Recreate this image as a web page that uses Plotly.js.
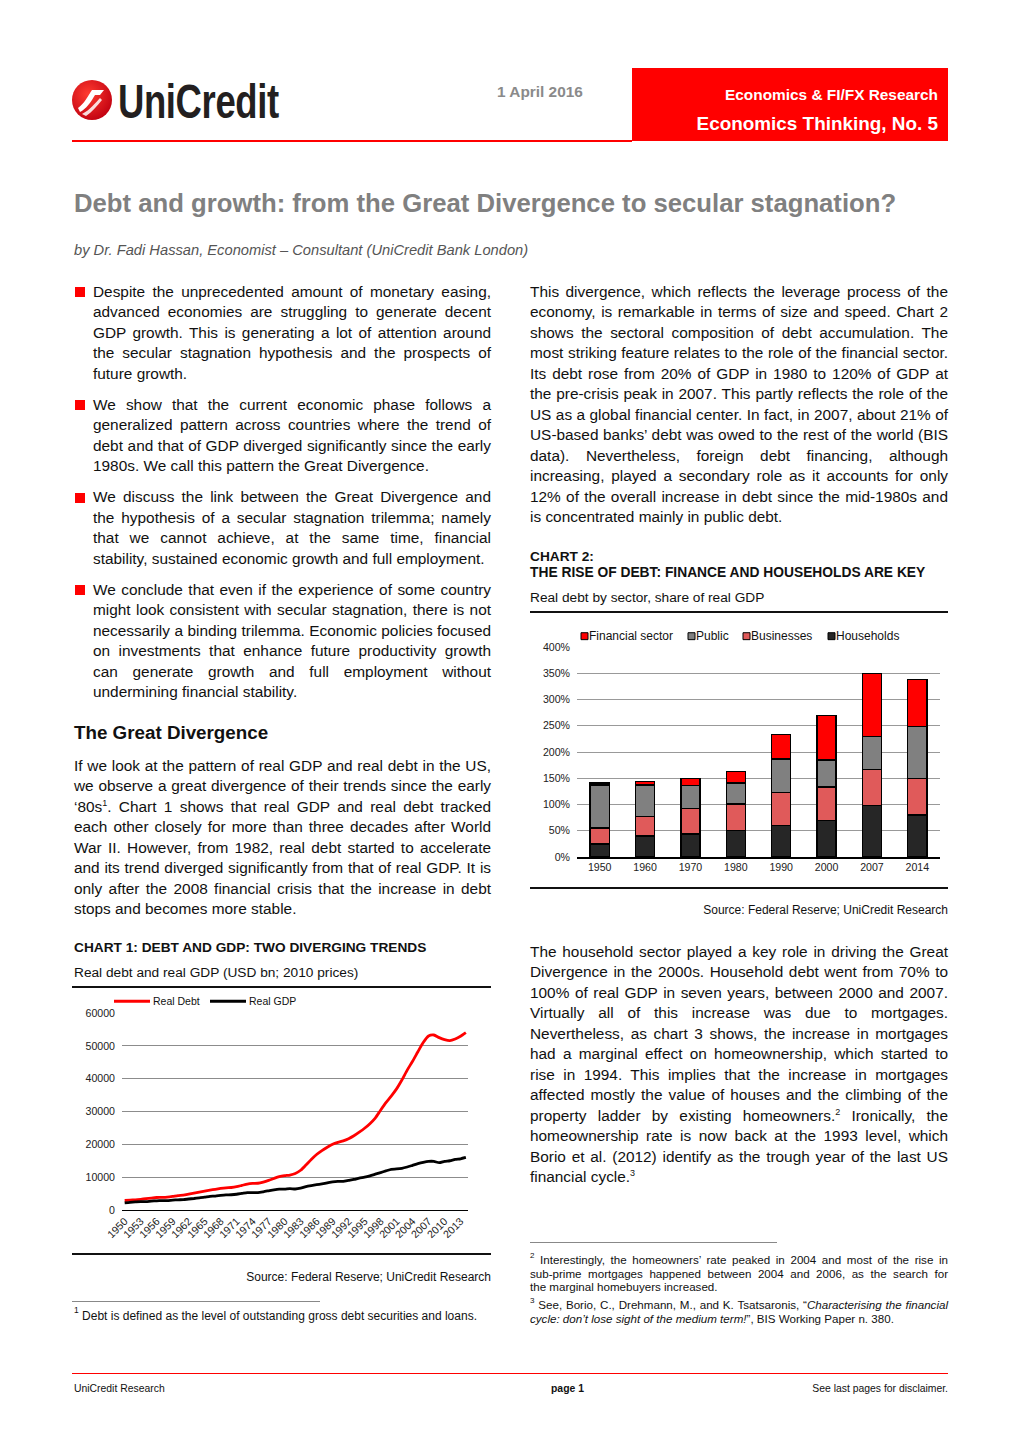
<!DOCTYPE html>
<html><head><meta charset="utf-8">
<script src="https://cdn.plot.ly/plotly-3.0.1.min.js"></script>
<style>
html,body{margin:0;padding:0;background:#fff;}
body{width:1020px;height:1442px;position:relative;overflow:hidden;font-family:"Liberation Sans",Arial,sans-serif;color:#111;}
.abs{position:absolute;white-space:nowrap;}
.ln{position:absolute;font-size:15.4px;line-height:20.5px;height:20.5px;text-align:justify;text-align-last:justify;white-space:nowrap;overflow:visible;}
.ln.last{text-align-last:left;}
sup{font-size:9px;line-height:0;vertical-align:6px;}
.bul{position:absolute;width:10px;height:10px;background:#f00;}
.rule{position:absolute;}
.fn{font-size:11.6px;line-height:13.2px;height:13.2px;}
.fn sup{font-size:8px;vertical-align:6px;}
</style></head>
<body>
<!-- header -->
<svg class="abs" style="left:70px;top:78px" width="44" height="44" viewBox="0 0 44 44">
 <defs><radialGradient id="g" cx="40%" cy="35%" r="70%"><stop offset="0" stop-color="#ff3b30"/><stop offset="1" stop-color="#c00010"/></radialGradient></defs>
 <circle cx="22" cy="22" r="20" fill="url(#g)"/>
 <path d="M8,30 C14,26 18,18 22,12 L34,12 L30,17 L25,17 C21,24 16,31 10,34 Z" fill="#fff"/>
 <path d="M12,36 C20,32 26,24 30,20 L32,22 C27,28 22,34 16,38 Z" fill="#fff" opacity="0.85"/>
</svg>
<div class="abs" style="left:118px;top:74px;font-size:48px;font-weight:bold;color:#231f20;transform:scaleX(0.76);transform-origin:left top;letter-spacing:-0.5px;">UniCredit</div>
<div class="abs" style="left:497px;top:83px;font-size:15.4px;font-weight:bold;color:#8a8a8a;">1 April 2016</div>
<div class="rule" style="left:632px;top:68px;width:316px;height:73px;background:#ff0000;"></div>
<div class="abs" style="right:82px;top:86px;font-size:15.4px;font-weight:bold;color:#fff;">Economics &amp; FI/FX Research</div>
<div class="abs" style="right:82px;top:113px;font-size:18.9px;font-weight:bold;color:#fff;">Economics Thinking, No. 5</div>
<div class="rule" style="left:72px;top:140px;width:560px;height:2px;background:#ff0000;"></div>

<div class="abs" style="left:74px;top:189px;font-size:25.7px;font-weight:bold;color:#808080;">Debt and growth: from the Great Divergence to secular stagnation?</div>
<div class="abs" style="left:74px;top:242px;font-size:14.7px;font-style:italic;color:#555;">by Dr. Fadi Hassan, Economist – Consultant (UniCredit Bank London)</div>

<div class="abs" style="left:74px;top:722px;font-size:18.8px;font-weight:bold;color:#111;">The Great Divergence</div>

<!-- chart 1 header -->
<div class="abs" style="left:74px;top:940px;font-size:13.7px;font-weight:bold;">CHART 1: DEBT AND GDP: TWO DIVERGING TRENDS</div>
<div class="abs" style="left:74px;top:965px;font-size:13.7px;">Real debt and real GDP (USD bn; 2010 prices)</div>
<div class="rule" style="left:72px;top:986px;width:419px;height:2px;background:#111;"></div>
<div class="rule" style="left:72px;top:1253px;width:419px;height:2px;background:#111;"></div>
<div class="abs" style="right:529px;top:1270px;font-size:12px;">Source: Federal Reserve; UniCredit Research</div>
<div class="rule" style="left:72px;top:1301px;width:248px;height:1px;background:#888;"></div>
<div class="abs" style="left:74px;top:1309px;font-size:12px;"><sup style="font-size:8.5px;vertical-align:7px;">1</sup> Debt is defined as the level of outstanding gross debt securities and loans.</div>

<!-- chart 2 header -->
<div class="abs" style="left:530px;top:549px;font-size:13.7px;font-weight:bold;">CHART 2:</div>
<div class="abs" style="left:530px;top:565px;font-size:13.8px;font-weight:bold;">THE RISE OF DEBT: FINANCE AND HOUSEHOLDS ARE KEY</div>
<div class="abs" style="left:530px;top:590px;font-size:13.7px;">Real debt by sector, share of real GDP</div>
<div class="rule" style="left:530px;top:611px;width:418px;height:2px;background:#111;"></div>
<div class="rule" style="left:530px;top:887px;width:418px;height:2px;background:#111;"></div>
<div class="abs" style="right:72px;top:903px;font-size:12px;">Source: Federal Reserve; UniCredit Research</div>

<div class="rule" style="left:530px;top:1242px;width:247px;height:1px;background:#888;"></div>

<!-- footer -->
<div class="rule" style="left:72px;top:1373px;width:876px;height:1px;background:#ff0000;"></div>
<div class="abs" style="left:74px;top:1383px;font-size:10.4px;">UniCredit Research</div>
<div class="abs" style="left:551px;top:1383px;font-size:10.4px;font-weight:bold;">page 1</div>
<div class="abs" style="right:72px;top:1383px;font-size:10.4px;">See last pages for disclaimer.</div>

<div id="c1" style="position:absolute;left:72px;top:990px;width:420px;height:265px;"></div>
<div id="c2" style="position:absolute;left:530px;top:615px;width:420px;height:270px;"></div>

<script>
// ---------- text ----------
function para(x, yc, w, lines, lh, cls){
  lh = lh || 20.5;
  lines.forEach(function(t,i){
    var d=document.createElement('div');
    d.className='ln'+(i===lines.length-1?' last':'')+(cls?' '+cls:'');
    d.style.left=x+'px'; d.style.width=w+'px'; d.style.top=(yc+i*lh-lh/2)+'px';
    d.innerHTML=t; document.body.appendChild(d);
  });
}
function bullet(yc){var b=document.createElement('div');b.className='bul';b.style.left='75px';b.style.top=(yc-5)+'px';document.body.appendChild(b);}
bullet(292);
para(93,292,398,["Despite the unprecedented amount of monetary easing,","advanced economies are struggling to generate decent","GDP growth. This is generating a lot of attention around","the secular stagnation hypothesis and the prospects of","future growth."]);
bullet(405);
para(93,405,398,["We show that the current economic phase follows a","generalized pattern across countries where the trend of","debt and that of GDP diverged significantly since the early","1980s. We call this pattern the Great Divergence."]);
bullet(497.5);
para(93,497.5,398,["We discuss the link between the Great Divergence and","the hypothesis of a secular stagnation trilemma; namely","that we cannot achieve, at the same time, financial","stability, sustained economic growth and full employment."]);
bullet(590);
para(93,590,398,["We conclude that even if the experience of some country","might look consistent with secular stagnation, there is not","necessarily a binding trilemma. Economic policies focused","on investments that enhance future productivity growth","can generate growth and full employment without","undermining financial stability."]);
para(74,766,417,["If we look at the pattern of real GDP and real debt in the US,","we observe a great divergence of their trends since the early","‘80s<sup>1</sup>. Chart 1 shows that real GDP and real debt tracked","each other closely for more than three decades after World","War II. However, from 1982, real debt started to accelerate","and its trend diverged significantly from that of real GDP. It is","only after the 2008 financial crisis that the increase in debt","stops and becomes more stable."]);
para(530,292,418,["This divergence, which reflects the leverage process of the","economy, is remarkable in terms of size and speed. Chart 2","shows the sectoral composition of debt accumulation. The","most striking feature relates to the role of the financial sector.","Its debt rose from 20% of GDP in 1980 to 120% of GDP at","the pre-crisis peak in 2007. This partly reflects the role of the","US as a global financial center. In fact, in 2007, about 21% of","US-based banks’ debt was owed to the rest of the world (BIS","data). Nevertheless, foreign debt financing, although","increasing, played a secondary role as it accounts for only","12% of the overall increase in debt since the mid-1980s and","is concentrated mainly in public debt."]);
para(530,952,418,["The household sector played a key role in driving the Great","Divergence in the 2000s. Household debt went from 70% to","100% of real GDP in seven years, between 2000 and 2007.","Virtually all of this increase was due to mortgages.","Nevertheless, as chart 3 shows, the increase in mortgages","had a marginal effect on homeownership, which started to","rise in 1994. This implies that the increase in mortgages","affected mostly the value of houses and the climbing of the","property ladder by existing homeowners.<sup>2</sup> Ironically, the","homeownership rate is now back at the 1993 level, which","Borio et al. (2012) identify as the trough year of the last US","financial cycle.<sup>3</sup>"]);
para(530,1260,418,["<sup>2</sup> Interestingly, the homeowners’ rate peaked in 2004 and most of the rise in","sub-prime mortgages happened between 2004 and 2006, as the search for","the marginal homebuyers increased."],13.2,'fn');
para(530,1305,418,["<sup>3</sup> See, Borio, C., Drehmann, M., and K. Tsatsaronis, “<i>Characterising the financial</i>","<i>cycle: don’t lose sight of the medium term!</i>”, BIS Working Paper n. 380."],14,'fn');

// ---------- data ----------
var years = [];
for (var y=1950; y<=2014; y++) years.push(y);
var realDebt = [2900,3000,3100,3250,3450,3650,3800,3850,3950,4150,
 4400,4550,4850,5150,5450,5750,6050,6300,6550,6750,
 6850,7100,7500,7900,8100,8150,8500,9000,9600,10150,
 10450,10650,11100,12100,13700,15400,16900,18100,19100,20000,
 20600,21050,21700,22600,23700,24900,26300,28000,30400,32700,
 34700,36900,39600,42600,45300,48200,51000,53000,53300,52500,
 51900,51600,52100,52900,54000];
var realGDP = [2200,2350,2450,2550,2550,2700,2800,2850,2850,3000,
 3100,3150,3350,3500,3700,3900,4150,4250,4450,4600,
 4650,4800,5050,5300,5300,5300,5550,5850,6150,6350,
 6350,6500,6400,6650,7150,7450,7700,7950,8250,8550,
 8700,8700,9000,9300,9700,10000,10400,10900,11400,11900,
 12400,12500,12700,13100,13600,14100,14500,14800,14800,14400,
 14800,15000,15400,15600,16000];
var chart1Series = ["Real Debt","Real GDP"];
var chart1Colors = ["#ff0000","#000000"];
var chart1Ticks = [1950,1953,1956,1959,1962,1965,1968,1971,1974,1977,1980,1983,1986,1989,1992,1995,1998,2001,2004,2007,2010,2013];

var sectorYears = ["1950","1960","1970","1980","1990","2000","2007","2014"];
var households = [25,40,44,50,60,70,98,80];
var businesses = [30,37,48,51,63,63,69,69];
var publicDebt = [82,60,44,40,64,52,63,100];
var financial  = [4,7,14,22,46,85,119,89];
var sectorNames = ["Financial sector","Public","Businesses","Households"];
var sectorColors = ["#ff0000","#808080","#e05a5a","#262626"];

var tickFont = {family:"Liberation Sans, Arial, sans-serif", size:10.6, color:"#222"};

// ---------- chart 1 ----------
var tr1 = [realDebt, realGDP].map(function(v,i){
  return {x:years, y:v, type:"scatter", mode:"lines", name:chart1Series[i],
    line:{color:chart1Colors[i], width:2.8, shape:"spline", smoothing:0.6}, showlegend:false};
});
var l1 = {shapes:[], annotations:[]};
var leg1X = [42, 138], W1 = 346, L1 = 50;
chart1Series.forEach(function(n,i){
  var x0 = (leg1X[i]-L1)/W1, x1 = (leg1X[i]+36-L1)/W1;
  l1.shapes.push({type:"line", xref:"paper", yref:"paper", x0:x0, x1:x1, y0:1.06, y1:1.06, line:{color:chart1Colors[i], width:3}});
  l1.annotations.push({xref:"paper", yref:"paper", x:x1+0.004, y:1.06, xanchor:"left", yanchor:"middle", text:n, showarrow:false, font:{family:"Liberation Sans, Arial, sans-serif", size:10.5, color:"#111"}});
});
Plotly.newPlot("c1", tr1, {
  width:420, height:265, margin:{l:50, r:24, t:23, b:45},
  paper_bgcolor:"rgba(0,0,0,0)", plot_bgcolor:"rgba(0,0,0,0)",
  showlegend:false,
  xaxis:{range:[1949.5,2014.4], tickvals:chart1Ticks, ticktext:chart1Ticks.map(String), tickangle:-45, tickfont:tickFont,
    showgrid:false, zeroline:false, showline:true, linecolor:"#000", linewidth:1, ticks:"", fixedrange:true},
  yaxis:{range:[0,60000], dtick:10000, tickformat:"d", tickfont:tickFont, showgrid:true, gridcolor:"#8c8c8c", gridwidth:1,
    zeroline:false, showline:false, ticks:"", ticklabelstandoff:6, fixedrange:true},
  shapes:l1.shapes, annotations:l1.annotations
}, {displayModeBar:false, staticPlot:true});

// ---------- chart 2 ----------
var stackVals = [financial, publicDebt, businesses, households];
var tr2 = [3,2,1,0].map(function(i){
  return {x:sectorYears, y:stackVals[i], type:"bar", name:sectorNames[i],
    marker:{color:sectorColors[i], line:{color:"#000", width:1.4}}, showlegend:false};
});
var l2 = {shapes:[], annotations:[]};
var leg2X = [51, 158, 213, 298], W2 = 363, L2 = 47;
sectorNames.forEach(function(n,i){
  var x0 = (leg2X[i]-L2)/W2, x1 = (leg2X[i]+7-L2)/W2;
  l2.shapes.push({type:"rect", xref:"paper", yref:"paper", x0:x0, x1:x1, y0:1.035, y1:1.068, fillcolor:sectorColors[i], line:{color:"#000", width:1}});
  l2.annotations.push({xref:"paper", yref:"paper", x:x1-0.003, y:1.052, xanchor:"left", yanchor:"middle", text:n, showarrow:false, font:{family:"Liberation Sans, Arial, sans-serif", size:12, color:"#111"}});
});
Plotly.newPlot("c2", tr2, {
  width:420, height:270, margin:{l:47, r:10, t:32, b:28},
  paper_bgcolor:"rgba(0,0,0,0)", plot_bgcolor:"rgba(0,0,0,0)",
  barmode:"stack", bargap:0.58, showlegend:false,
  xaxis:{type:"category", tickfont:tickFont, showgrid:false, zeroline:false, showline:true, linecolor:"#000", linewidth:1.5, ticks:"", fixedrange:true},
  yaxis:{range:[0,400], dtick:50, ticksuffix:"%", tickfont:tickFont, showgrid:true, gridcolor:"#999", gridwidth:1,
    zeroline:false, showline:false, ticks:"", ticklabelstandoff:6, fixedrange:true},
  shapes:l2.shapes, annotations:l2.annotations
}, {displayModeBar:false, staticPlot:true});
</script>
</body></html>
